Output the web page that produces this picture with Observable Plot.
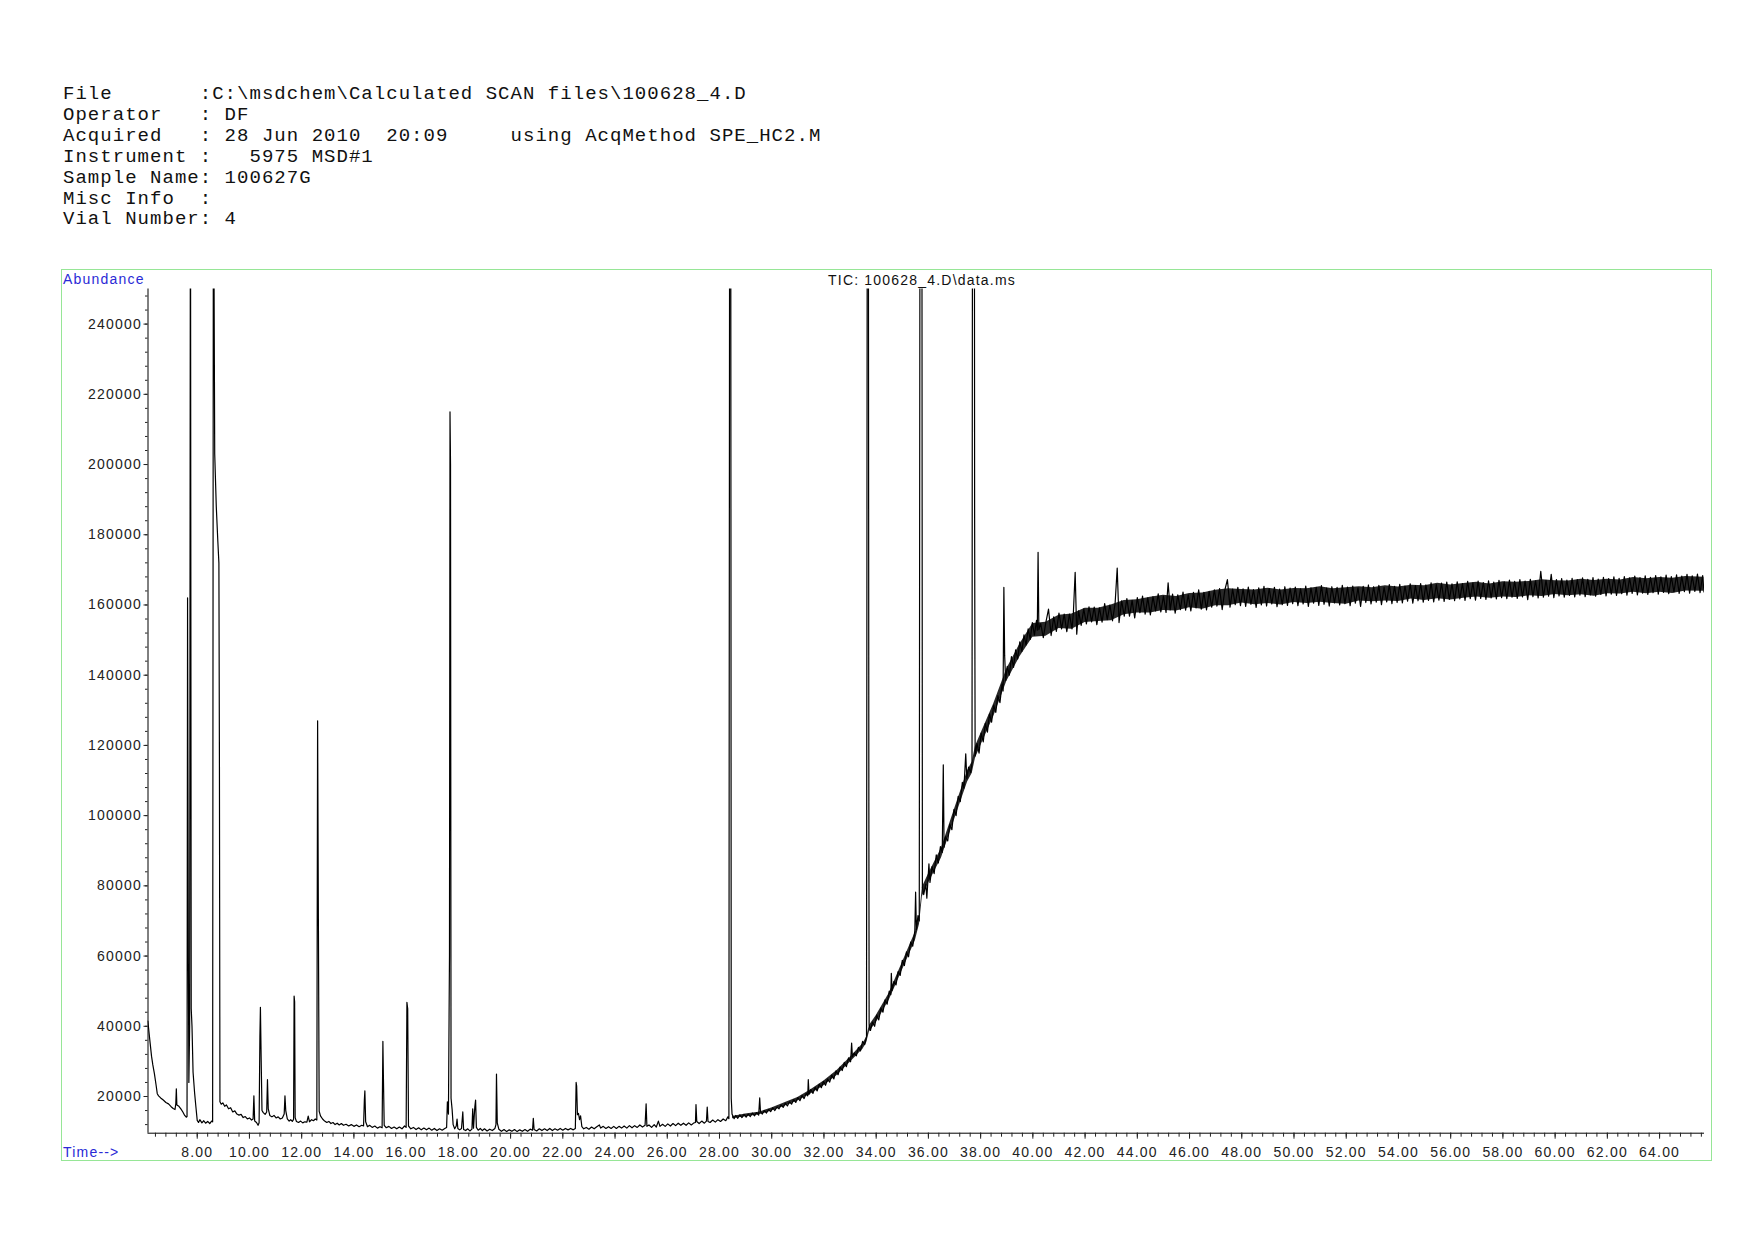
<!DOCTYPE html>
<html>
<head>
<meta charset="utf-8">
<script src="https://cdn.jsdelivr.net/npm/d3@7"></script>
<script src="https://cdn.jsdelivr.net/npm/@observablehq/plot@0.6"></script>
<style>
  html, body { margin: 0; padding: 0; background: #fff; }
  body { width: 1754px; height: 1240px; position: relative; overflow: hidden; }
  #header { position: absolute; left: 63px; top: 84px; margin: 0;
    font-family: "Liberation Mono", "Courier New", monospace; font-size: 19px;
    letter-spacing: 1.03px; line-height: 20.9px; color: #111; white-space: pre; }
  .blue { position: absolute; font-family: "Liberation Sans", Arial, sans-serif; font-size: 14px;
    letter-spacing: 1.2px; line-height: 14px; color: #2a2ad6; white-space: pre; }
  #title { position: absolute; font-family: "Liberation Sans", Arial, sans-serif; font-size: 14px;
    letter-spacing: 1.2px; line-height: 14px; color: #111; white-space: pre; transform: translateX(-50%); }
  #frame { position: absolute; left: 61px; top: 269px; width: 1651px; height: 892px;
    box-sizing: border-box; border: 1px solid #96e696; }
  #chart { position: absolute; left: 0; top: 260px; }
</style>
</head>
<body>
<pre id="header"></pre>
<div id="frame"></div>
<div id="chart"></div>
<div class="blue" id="abund" style="left:63px; top:271.5px;"></div>
<div class="blue" id="timelbl" style="left:63px; top:1144.8px;"></div>
<div id="title" style="left:922px; top:273px;"></div>
<script>
// ---------- text content ----------
const headerLines = [
  "File       :C:\\msdchem\\Calculated SCAN files\\100628_4.D",
  "Operator   : DF",
  "Acquired   : 28 Jun 2010  20:09     using AcqMethod SPE_HC2.M",
  "Instrument :   5975 MSD#1",
  "Sample Name: 100627G",
  "Misc Info  :",
  "Vial Number: 4"
];
const chartTitle = "TIC: 100628_4.D\\data.ms";
const yAxisTitle = "Abundance";
const xAxisTitle = "Time-->";

// ---------- axes ----------
const xDomain = [6.115, 65.72];
const yDomain = [9550, 250000];
const xTickValues = [8, 10, 12, 14, 16, 18, 20, 22, 24, 26, 28, 30, 32, 34, 36, 38, 40, 42, 44, 46, 48, 50, 52, 54, 56, 58, 60, 62, 64];
const yTickValues = [20000, 40000, 60000, 80000, 100000, 120000, 140000, 160000, 180000, 200000, 220000, 240000];

// ---------- TIC trace: [retention time (min), abundance] ----------
const earlyTrace = [
  [6.11,41500],[6.15,38500],[6.20,35000],[6.25,31500],[6.30,29000],[6.36,26500],[6.42,23500],[6.47,20800],
  [6.52,20200],[6.60,19600],[6.70,19000],[6.80,18300],[6.90,17900],[7.00,17100],[7.08,16600],[7.15,16300],
  [7.18,18000],[7.20,22200],[7.22,17600],[7.30,17200],[7.38,16400],[7.45,15600],[7.52,14600],[7.58,14100],
  [7.61,14300],[7.63,162000],[7.66,60000],[7.68,24000],[7.71,40000],[7.74,300000],[7.77,45000],[7.80,40000],
  [7.84,27000],[7.90,21000],[7.95,17000],[8.00,13200],[8.05,12600],[8.10,13400],[8.18,12500],[8.25,13100],
  [8.32,12400],[8.40,12900],[8.48,12300],[8.55,13000],[8.59,12800],[8.62,300000],[8.67,203000],[8.73,188000],
  [8.79,178000],[8.83,172000],[8.85,117000],[8.87,18500],[8.92,17800],[8.98,18200],[9.05,17200],[9.12,17600],
  [9.20,16500],[9.28,16800],[9.36,15600],[9.44,15900],[9.52,15000],[9.60,14700],[9.68,14900],[9.76,14000],
  [9.84,14300],[9.92,13600],[10.00,13900],[10.08,13300],[10.14,13600],[10.17,20200],[10.20,13000],[10.27,12600],
  [10.33,11800],[10.37,12500],[10.40,37000],[10.42,45400],[10.45,30000],[10.48,16000],[10.53,15400],[10.60,14900],
  [10.66,15600],[10.69,24800],[10.72,16500],[10.78,14600],[10.86,14200],[10.94,14600],[11.02,13900],[11.10,14200],
  [11.18,13600],[11.26,13900],[11.33,15000],[11.36,20200],[11.39,16000],[11.45,13600],[11.52,13000],[11.58,13400],
  [11.64,12900],[11.69,13500],[11.71,48600],[11.73,47000],[11.75,14000],[11.80,12900],[11.88,12600],[11.96,13000],
  [12.04,12500],[12.12,12800],[12.20,12700],[12.25,14400],[12.30,12800],[12.38,13400],[12.45,13100],[12.52,13600],
  [12.58,13300],[12.61,127000],[12.64,70500],[12.67,15800],[12.72,14500],[12.80,13600],[12.88,13000],[12.96,12600],
  [13.04,12900],[13.12,12300],[13.20,12600],[13.28,12000],[13.36,12400],[13.44,11900],[13.52,12300],[13.60,11800],
  [13.70,12100],[13.80,11600],[13.90,12000],[14.00,11500],[14.10,11900],[14.20,11400],[14.30,11800],[14.37,11600],
  [14.40,19000],[14.42,21600],[14.45,12800],[14.52,11400],[14.60,11800],[14.70,11200],[14.80,11600],[14.90,11000],
  [15.00,11400],[15.08,11100],[15.11,35700],[15.13,25500],[15.16,11800],[15.24,11100],[15.34,11500],[15.44,10900],
  [15.54,11300],[15.64,10800],[15.74,11300],[15.84,10800],[15.94,11600],[16.00,11200],[16.03,46800],[16.06,45000],
  [16.09,11600],[16.18,10800],[16.28,11200],[16.38,10600],[16.48,11100],[16.58,10500],[16.68,11000],[16.78,10500],
  [16.88,11000],[16.98,10400],[17.08,10900],[17.18,10300],[17.28,10800],[17.38,10400],[17.48,10900],[17.55,11200],
  [17.58,18500],[17.62,15000],[17.66,60000],[17.68,215000],[17.70,200000],[17.72,19500],[17.76,16400],[17.80,12000],
  [17.86,10800],[17.92,11600],[17.95,13600],[17.98,10900],[18.05,10500],[18.12,10900],[18.17,15600],[18.20,10600],
  [18.28,10300],[18.36,10800],[18.44,10200],[18.52,10700],[18.55,16500],[18.58,11000],[18.63,17000],[18.66,19000],
  [18.69,11200],[18.76,10400],[18.84,10900],[18.92,10300],[19.00,10800],[19.10,10200],[19.20,10700],[19.30,10300],
  [19.40,10900],[19.44,12000],[19.46,26400],[19.49,12500],[19.55,10700],[19.65,10100],[19.75,10600],[19.85,10000],
  [19.95,10500],[20.05,10100],[20.15,10600],[20.25,10000],[20.35,10500],[20.45,10100],[20.55,10600],[20.65,10100],
  [20.75,10700],[20.84,10400],[20.87,13800],[20.90,10600],[21.00,10200],[21.10,10800],[21.20,10300],[21.30,10800],
  [21.40,10300],[21.50,10900],[21.60,10300],[21.70,10800],[21.80,10400],[21.90,10900],[22.00,10400],[22.10,10900],
  [22.20,10500],[22.30,10900],[22.40,10500],[22.48,10900],[22.51,24000],[22.53,23000],[22.56,14800],[22.60,15200],
  [22.64,13400],[22.68,14500],[22.73,11400],[22.80,10800],[22.90,11200],[23.00,10700],[23.10,11300],[23.20,10800],
  [23.30,11400],[23.40,11900],[23.45,11000],[23.55,11500],[23.65,10900],[23.75,11400],[23.85,10900],[23.95,11500],
  [24.05,10900],[24.15,11500],[24.25,11000],[24.35,11600],[24.45,11000],[24.55,11700],[24.65,11100],[24.75,11700],
  [24.85,11200],[24.95,11900],[25.05,11300],[25.15,11800],[25.19,17900],[25.22,11500],[25.30,11900],[25.40,11200],
  [25.50,12000],[25.58,11300],[25.66,13000],[25.72,11500],[25.82,12100],[25.92,11500],[26.02,12200],[26.12,11600],
  [26.22,12300],[26.32,11700],[26.42,12400],[26.52,11800],[26.62,12400],[26.72,11800],[26.82,12500],[26.92,11900],
  [27.02,12500],[27.08,12600],[27.10,17700],[27.13,12900],[27.22,12300],[27.32,13000],[27.42,12400],[27.50,13000],
  [27.53,17000],[27.56,12900],[27.64,12600],[27.74,13300],[27.84,12700],[27.94,13400],[28.04,12900],[28.14,13600],
  [28.24,13100],[28.32,14200],[28.36,13700],[28.39,300000],[28.43,300000],[28.45,19400],[28.48,15000],[28.52,14300]
];

const riseTrace = [
  [28.56,13700],[28.62,14600],[28.70,13800],[28.78,14800],[28.86,14000],[28.94,14900],[29.02,14100],[29.10,15000],
  [29.18,14300],[29.26,15300],[29.34,14500],[29.42,15400],[29.50,14700],[29.54,19600],[29.57,15600],[29.64,15000],
  [29.72,16000],[29.80,15300],[29.88,16300],[29.96,15700],[30.04,16800],[30.12,16000],[30.20,17000],[30.28,16500],
  [30.36,17600],[30.44,16900],[30.52,18100],[30.60,17300],[30.68,18500],[30.76,17800],[30.84,19100],[30.92,18300],
  [31.00,19700],[31.08,18800],[31.16,20300],[31.24,19400],[31.32,20900],[31.38,20200],[31.40,24800],[31.43,20600],
  [31.50,22000],[31.58,20900],[31.66,22600],[31.74,21600],[31.82,23500],[31.90,22500],[31.98,24300],[32.06,23200],
  [32.14,25000],[32.22,24100],[32.30,26100],[32.38,25000],[32.46,27300],[32.54,26200],[32.62,28400],[32.70,27400],
  [32.78,29700],[32.86,28500],[32.94,31000],[33.02,29900],[33.06,35200],[33.09,31300],[33.16,32400],[33.24,31600],
  [33.32,34000],[33.40,33000],[33.48,35700],[33.56,34800],[33.63,37000],[33.66,300000],[33.70,300000],[33.72,101000],
  [33.73,40500],[33.78,38800],[33.86,41200],[33.94,40000],[34.02,43200],[34.10,41800],[34.18,45200],[34.26,44000],
  [34.34,47500],[34.42,46300],[34.50,50000],[34.56,49000],[34.58,55100],[34.61,50200],[34.68,52800],[34.76,51800],
  [34.84,55600],[34.92,54500],[35.00,58800],[35.08,57300],[35.16,61200],[35.24,59800],[35.32,64000],[35.40,62800],
  [35.48,67200],[35.51,78200],[35.54,67500],[35.60,71500],[35.65,70000],[35.68,300000],[35.75,300000],[35.77,79500],
  [35.82,77500],[35.90,80500],[35.94,76500],[36.02,86300],[36.06,81000],[36.14,85500],[36.22,83500],[36.30,88800],
  [36.38,86500],[36.46,91200],[36.53,89500],[36.57,114500],[36.60,91000],[36.66,94000],[36.74,92800],[36.82,97500],
  [36.90,96000],[36.98,101800],[37.06,100000],[37.14,105500],[37.22,104000],[37.30,109500],[37.36,107800],[37.43,117600],
  [37.47,110500],[37.54,113800],[37.62,112300],[37.67,115000],[37.69,300000],[37.76,300000],[37.77,185000],[37.78,148000],
  [37.79,117000],[37.86,120500],[37.94,117800],[38.02,123500],[38.10,121000],[38.18,126300],[38.26,123800],[38.34,129000],
  [38.42,126600],[38.50,131500],[38.58,129400],[38.66,134200],[38.74,132200],[38.82,137500],[38.86,135500],[38.89,165000],
  [38.92,145500],[38.96,138500],[39.02,142500],[39.10,140000],[39.18,145300],[39.26,142200],[39.34,147200],[39.42,144600],
  [39.50,149500],[39.58,146800],[39.66,151500],[39.74,148600],[39.82,153200],[39.90,150200],[39.98,155000],[40.06,151400],
  [40.14,155600],[40.17,152800],[40.20,175000],[40.23,153000]
];

const plateauTrace = [
  [40.30,154700],[40.40,150700],[40.50,155100],[40.60,158800],[40.70,151300],[40.80,156600],[40.90,152500],[41.00,157700],
  [41.10,153200],[41.20,157400],[41.30,152400],[41.40,157400],[41.50,153200],[41.55,157600],[41.62,169300],[41.68,151700],
  [41.75,158300],[41.85,154200],[41.95,158900],[42.05,154600],[42.15,159500],[42.25,155200],[42.35,159400],[42.45,154400],
  [42.55,159200],[42.65,155100],[42.75,160400],[42.85,155800],[42.95,160000],[43.05,155500],[43.15,160500],[43.23,170500],
  [43.30,155000],[43.40,161200],[43.50,156800],[43.60,161800],[43.70,156800],[43.80,161300],[43.90,156300],[44.00,162100],
  [44.10,157800],[44.20,162500],[44.30,157400],[44.40,162000],[44.50,157200],[44.60,162400],[44.70,158300],[44.80,163200],
  [44.90,158000],[45.00,162500],[45.10,157900],[45.18,166300],[45.26,158600],[45.35,163100],[45.45,157700],[45.55,162900],
  [45.65,158700],[45.75,163700],[45.85,158500],[45.95,162900],[46.05,158300],[46.15,163600],[46.25,159200],[46.35,164300],
  [46.45,158800],[46.55,163600],[46.65,158600],[46.75,163900],[46.85,159400],[46.95,164300],[47.05,159700],[47.15,164700],
  [47.25,158700],[47.35,164200],[47.45,167200],[47.55,159400],[47.65,164500],[47.75,160100],[47.85,165000],[47.95,159800],
  [48.05,164600],[48.15,159600],[48.25,165100],[48.35,160200],[48.45,164400],[48.55,159300],[48.65,164900],[48.75,160000],
  [48.85,165300],[48.95,159700],[49.05,164700],[49.15,160300],[49.25,165000],[49.35,159500],[49.45,164500],[49.55,160100],
  [49.65,165200],[49.75,159900],[49.85,164800],[49.95,160400],[50.05,165100],[50.15,159800],[50.25,164600],[50.35,160300],
  [50.45,165400],[50.55,159600],[50.65,164900],[50.75,160500],[50.85,165000],[50.95,159900],[51.05,165500],[51.15,160200],
  [51.25,164800],[51.35,159700],[51.45,165200],[51.55,160600],[51.65,165000],[51.75,160000],[51.85,165600],[51.95,160400],
  [52.05,165100],[52.15,159800],[52.25,165400],[52.35,160500],[52.45,164900],[52.55,159600],[52.65,165300],[52.75,160700],
  [52.85,165700],[52.95,160300],[53.05,165200],[53.15,160800],[53.25,165600],[53.35,160100],[53.45,165000],[53.55,160900],
  [53.65,165800],[53.75,160400],[53.85,165300],[53.95,160700],[54.05,165900],[54.15,160600],[54.25,165400],[54.35,161100],
  [54.45,166000],[54.55,160500],[54.65,165500],[54.75,161200],[54.85,166100],[54.95,160800],[55.05,165700],[55.15,161300],
  [55.25,166300],[55.35,160900],[55.45,165800],[55.55,161400],[55.65,166200],[55.75,161000],[55.85,166500],[55.95,161600],
  [56.05,166000],[56.15,161200],[56.25,166600],[56.35,161700],[56.45,166100],[56.55,161300],[56.65,166700],[56.75,161800],
  [56.85,166300],[56.95,161400],[57.05,166800],[57.15,161900],[57.25,166400],[57.35,161600],[57.45,166900],[57.55,162000],
  [57.65,166500],[57.75,161700],[57.85,167000],[57.95,162100],[58.05,166600],[58.15,161800],[58.25,167100],[58.35,162200],
  [58.45,166700],[58.55,161900],[58.65,167200],[58.75,162300],[58.85,166800],[58.95,161500],[59.05,167300],[59.15,162400],
  [59.25,166900],[59.35,162000],[59.45,169600],[59.55,162200],[59.65,167000],[59.75,162500],[59.85,168700],[59.95,162100],
  [60.05,167200],[60.15,162600],[60.25,167500],[60.35,162200],[60.45,167100],[60.55,162700],[60.65,167600],[60.75,162300],
  [60.85,167200],[60.95,162800],[61.05,167700],[61.15,162400],[61.25,167300],[61.35,162900],[61.45,167800],[61.55,162500],
  [61.65,167400],[61.75,163000],[61.85,167900],[61.95,162600],[62.05,167500],[62.15,163100],[62.25,168000],[62.35,162700],
  [62.45,167600],[62.55,163200],[62.65,168100],[62.75,162800],[62.85,167700],[62.95,163300],[63.05,168200],[63.15,162900],
  [63.25,167800],[63.35,163400],[63.45,168300],[63.55,163000],[63.65,167900],[63.75,163500],[63.85,168400],[63.95,163100],
  [64.05,168000],[64.15,163600],[64.25,168500],[64.35,163200],[64.45,168100],[64.55,163700],[64.65,168600],[64.75,163300],
  [64.85,168200],[64.95,163800],[65.05,168700],[65.15,163400],[65.25,168300],[65.35,163900],[65.45,168800],[65.55,163500],
  [65.65,168400],[65.70,163700]
];

// ---------- dense noise core of the baseline (read as low/high edges) ----------
const noiseTime = [28.50, 29.00, 29.50, 30.00, 30.50, 31.00, 31.50, 32.00, 32.50, 33.00, 33.50, 33.64,
  33.74, 34.00, 34.50, 35.00, 35.50, 35.66, 35.77, 36.00, 36.50, 37.00, 37.50, 37.68, 37.80, 38.00, 38.50,
  39.00, 39.50, 40.00, 40.50, 41.00, 41.50, 42.00, 42.50, 43.00, 43.50, 44.00, 44.50, 45.00, 45.50, 46.00,
  46.50, 47.00, 47.50, 48.00, 48.50, 49.00, 49.50, 50.00, 50.50, 51.00, 51.50, 52.00, 52.50, 53.00, 53.50,
  54.00, 54.50, 55.00, 55.50, 56.00, 56.50, 57.00, 57.50, 58.00, 58.50, 59.00, 59.50, 60.00, 60.50, 61.00,
  61.50, 62.00, 62.50, 63.00, 63.50, 64.00, 64.50, 65.00, 65.70];
const noiseLow = [13700, 14200, 14700, 15900, 17200, 18700, 20700, 23100, 26000, 29700, 33500, 35400,
  38400, 41000, 47400, 55900, 64400, 69100, 77000, 80700, 87900, 98800, 109600, 112100, 116300, 119800, 128200,
  138200, 145200, 150800, 151100, 153300, 153100, 155000, 155300, 155500, 157200, 157700, 157700, 158400, 158300, 159200,
  158800, 159800, 159800, 160600, 160100, 160400, 160000, 160700, 160400, 160800, 160400, 160200, 161100, 160900, 161100,
  161000, 161700, 161300, 161800, 161400, 161900, 162300, 161900, 162300, 162100, 162600, 162400, 163000, 162600, 162900,
  162500, 163200, 163100, 163600, 163200, 163600, 163300, 164000, 163900];
const noiseHigh = [14300, 15000, 15500, 16700, 18200, 19700, 21900, 24400, 27400, 31100, 35100, 37000,
  40200, 43000, 49400, 58100, 66800, 71500, 79600, 83300, 90700, 101800, 112800, 115300, 119700, 123200, 131800,
  141800, 148800, 154700, 155100, 157100, 157400, 159100, 159100, 160000, 161300, 161500, 162200, 162800, 162400, 163300,
  163400, 164200, 164600, 164400, 164300, 164800, 164300, 164700, 164600, 165200, 164600, 164900, 165200, 164900, 165500,
  165100, 165600, 165500, 166200, 165700, 166100, 166500, 166000, 166600, 166500, 166700, 167200, 166900, 166800, 167300,
  167000, 167300, 167100, 167800, 167500, 167800, 167600, 168100, 167900];

// ---------- build ----------
document.getElementById("header").textContent = headerLines.join("\n");
document.getElementById("abund").textContent = yAxisTitle;
document.getElementById("timelbl").textContent = xAxisTitle;
document.getElementById("title").textContent = chartTitle;

const tic = [...earlyTrace, ...riseTrace, ...plateauTrace].map(([t, a]) => ({t, a}));
const noise = noiseTime.map((t, i) => ({t, lo: noiseLow[i], hi: noiseHigh[i]}));
const xMinor = d3.range(6.4, 65.7, 0.4).map(v => +v.toFixed(2));
const yMinor = d3.range(12000, 250000, 4000);

const chart = Plot.plot({
  width: 1754,
  height: 910,
  marginLeft: 147.5,
  marginRight: 50,
  marginTop: 28.5,
  marginBottom: 37.3,
  style: {fontFamily: "'Liberation Sans', Arial, sans-serif", fontSize: "14px", letterSpacing: "1.2px", color: "#222", background: "transparent", overflow: "visible"},
  x: {domain: xDomain},
  y: {domain: yDomain},
  marks: [
    Plot.areaY(noise, {x: "t", y1: "lo", y2: "hi", fill: "#111", fillOpacity: 0.9, clip: true}),
    Plot.line(tic, {x: "t", y: "a", stroke: "#000", strokeWidth: 1.2, clip: true}),
    Plot.ruleX([xDomain[0]], {stroke: "#000", strokeWidth: 1}),
    Plot.ruleY([yDomain[0]], {stroke: "#000", strokeWidth: 1}),
    Plot.axisX(xMinor, {tickSize: 4, tickFormat: () => "", label: null}),
    Plot.axisX(xTickValues, {tickSize: 6, tickPadding: 8, tickFormat: d => d.toFixed(2), label: null}),
    Plot.axisY(yMinor, {tickSize: 2.5, tickFormat: () => "", label: null}),
    Plot.axisY(yTickValues, {tickSize: 4, tickPadding: 2, tickFormat: d => String(d), label: null})
  ]
});
document.getElementById("chart").append(chart);
</script>
</body>
</html>
